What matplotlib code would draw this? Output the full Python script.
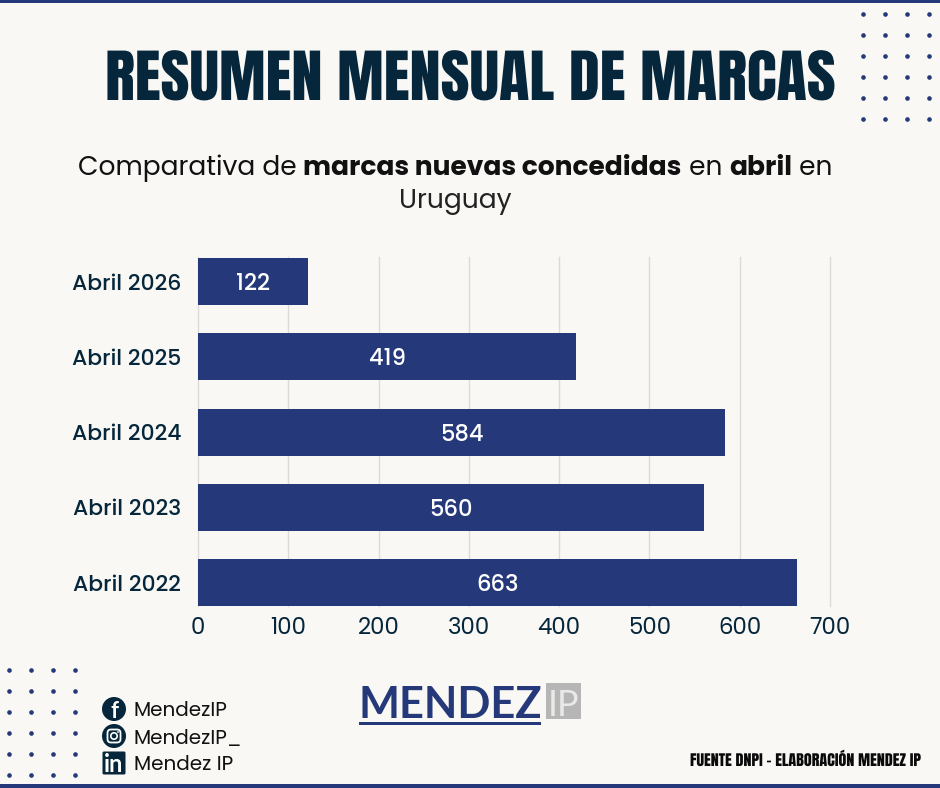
import matplotlib
matplotlib.use("Agg")
import matplotlib.pyplot as plt
from matplotlib.patches import Circle, FancyBboxPatch, Rectangle
from matplotlib.patheffects import AbstractPathEffect
from matplotlib.transforms import Affine2D
import numpy as np

NAVY = "#24387a"
DARK = "#05263b"
BG = "#f9f8f4"
TEXT_FONT = ["Poppins", "Inter", "DejaVu Sans"]
TITLE_FONT = ["Anton", "Liberation Sans", "DejaVu Sans"]
LOGO_FONT = ["Lato", "Liberation Sans", "DejaVu Sans"]

periods = ["Abril 2022", "Abril 2023", "Abril 2024", "Abril 2025", "Abril 2026"]
marcas = [663, 560, 584, 419, 122]
x_ticks = [0, 100, 200, 300, 400, 500, 600, 700]

socials = ["MendezIP", "MendezIP_", "Mendez IP"]
subtitle_parts = [("Comparativa de ", "normal"), ("marcas nuevas concedidas", "bold"),
                  (" en ", "normal"), ("abril", "bold"), (" en", "normal")]


class SquashY(AbstractPathEffect):
    """Flatten a text vertically around its baseline."""

    def __init__(self, factor):
        super().__init__()
        self.factor = factor

    def draw_path(self, renderer, gc, tpath, affine, rgbFace=None):
        y0 = affine.transform((0, 0))[1]
        squash = Affine2D().translate(0, -y0).scale(1, self.factor).translate(0, y0)
        renderer.draw_path(gc, tpath, affine + squash, rgbFace)


W, H = 940, 788
fig = plt.figure(figsize=(W / 100, H / 100), dpi=100, facecolor=BG)

# full-size layer in pixel units for everything around the chart
bg = fig.add_axes([0, 0, 1, 1])
bg.set_xlim(0, W)
bg.set_ylim(H, 0)
bg.axis("off")

bg.add_patch(Rectangle((0, 0), W, 3, color=NAVY, lw=0))
bg.add_patch(Rectangle((0, 784), W, 4, color=NAVY, lw=0))

# dot grids in the corners
for xs, ys in [((863, 885, 907, 929), (14, 35, 56, 77, 98, 119)),
               ((9, 31, 53, 75), (670, 691, 712, 733, 754, 775))]:
    gx, gy = np.meshgrid(xs, ys)
    bg.scatter(gx.ravel(), gy.ravel(), s=11, color=NAVY, lw=0)

renderer = fig.canvas.get_renderer()

bg.text(470.5, 100, "RESUMEN MENSUAL DE MARCAS", family=TITLE_FONT,
        fontsize=45, color=DARK, ha="center", va="baseline",
        path_effects=[SquashY(0.92)])

# subtitle mixes regular and bold runs, so place them one after another
runs = []
total = 0
for part, weight in subtitle_parts:
    t = bg.text(0, 165, part.replace(" ", "\u00a0"), family=TEXT_FONT, weight=weight,
                fontsize=19.1, color="#111111", va="center_baseline")
    w = t.get_window_extent(renderer).width
    runs.append((t, w))
    total += w
x = 455 - total / 2
for t, w in runs:
    t.set_x(x)
    x += w
bg.text(455, 198, "Uruguay", family=TEXT_FONT, fontsize=19.1, color="#222222",
        ha="center", va="center_baseline")

# bar chart
ax = fig.add_axes([198 / W, 1 - 606 / H, 632 / W, 349 / H])
ax.patch.set_alpha(0)
ypos = np.arange(len(periods))
ax.barh(ypos, marcas, height=0.625, color=NAVY, zorder=3)
ax.set_xlim(0, 700)
ax.set_ylim(-0.312, 4.326)
ax.set_xticks(x_ticks)
ax.set_yticks(ypos)
ax.set_yticklabels(periods, family=TEXT_FONT, fontsize=15.8, weight="medium", color=DARK)
ax.tick_params(axis="x", length=0, pad=8, labelsize=16.5, labelcolor=DARK)
ax.tick_params(axis="y", length=0, pad=12)
for lab in ax.get_xticklabels():
    lab.set_family(TEXT_FONT)
ax.grid(axis="x", color="#dcdad6", lw=1, zorder=0, clip_on=False)
for side in ax.spines.values():
    side.set_visible(False)
for val, y in zip(marcas, ypos):
    ax.text(val / 2, y, str(val), color="white", ha="center", va="center_baseline",
            family=TEXT_FONT, fontsize=16.3, weight="medium", zorder=4)

# logo
bg.text(358, 718, "MENDEZ", family=LOGO_FONT, weight="bold",
        fontsize=31.2, color=NAVY, va="baseline")
bg.add_patch(Rectangle((359, 722), 182, 3, color=NAVY, lw=0))
bg.add_patch(Rectangle((546, 683), 35, 36, color="#b5b6b5", lw=0))
bg.text(563.5, 702, "IP", family=LOGO_FONT, fontsize=26, color="#e9e9e7",
        ha="center", va="center_baseline")

# social icons
bg.add_patch(Circle((114, 709), 12, color=DARK, lw=0))
bg.text(114.5, 711, "f", family=LOGO_FONT, weight="bold",
        fontsize=16, color="white", ha="center", va="center")
bg.add_patch(Circle((114, 736), 12, color=DARK, lw=0))
bg.add_patch(FancyBboxPatch((107.5, 729.5), 13, 13, boxstyle="round,pad=0,rounding_size=3.5",
                            fc="none", ec="white", lw=1.3))
bg.add_patch(Circle((114, 736), 3.2, fc="none", ec="white", lw=1.2))
bg.add_patch(Circle((118, 732), 0.9, color="white", lw=0))
bg.add_patch(FancyBboxPatch((102.5, 751.5), 23, 23, boxstyle="round,pad=0,rounding_size=1.5",
                            fc=DARK, ec="none"))
bg.text(114, 764.5, "in", family=LOGO_FONT, weight="bold",
        fontsize=17, color="white", ha="center", va="center")

for name, y in zip(socials, (709, 736, 763)):
    bg.text(133.5, y, name, family=TEXT_FONT, fontsize=14.4, color="#111111", va="center_baseline")

bg.text(921, 766, "FUENTE DNPI - ELABORACIÓN MENDEZ IP", family=TITLE_FONT,
        fontsize=11.6, color="#0a0a0a", ha="right", va="baseline",
        path_effects=[SquashY(0.92)])

fig.savefig("out.png", dpi=100, facecolor=BG)
